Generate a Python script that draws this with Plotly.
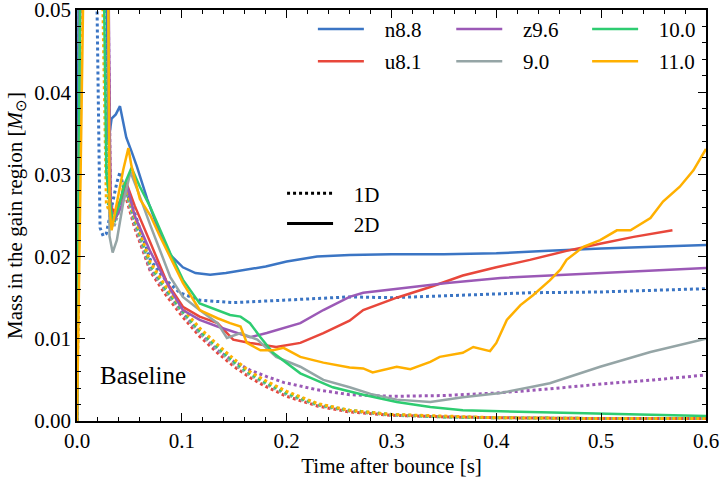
import plotly.graph_objects as go

# ---------------- data ----------------
# 2D (solid) runs
t_n88_2d = [0, 0.002, 0.027, 0.030, 0.033, 0.037, 0.041, 0.044, 0.047, 0.052, 0.057, 0.067, 0.077, 0.089, 0.101, 0.113, 0.127, 0.142, 0.158, 0.18, 0.2, 0.229, 0.26, 0.3, 0.35, 0.4, 0.45, 0.5, 0.55, 0.6]
m_n88_2d = [0, 0.07, 0.07, 0.034, 0.0368, 0.0373, 0.0383, 0.0362, 0.0345, 0.0328, 0.031, 0.027, 0.0235, 0.0202, 0.0187, 0.018, 0.0178, 0.018, 0.0183, 0.0188, 0.0194, 0.020, 0.0202, 0.0203, 0.0203, 0.0204, 0.0207, 0.021, 0.0212, 0.0214]

t_u81_2d = [0, 0.004, 0.028, 0.032, 0.036, 0.042, 0.047, 0.055, 0.07, 0.086, 0.101, 0.117, 0.134, 0.149, 0.165, 0.19, 0.213, 0.235, 0.26, 0.273, 0.305, 0.337, 0.368, 0.40, 0.432, 0.467, 0.50, 0.531, 0.568]
m_u81_2d = [0, 0.07, 0.07, 0.026, 0.0255, 0.027, 0.029, 0.0262, 0.0217, 0.0168, 0.0139, 0.0127, 0.0119, 0.0099, 0.0095, 0.009, 0.0095, 0.0107, 0.0122, 0.0135, 0.015, 0.0163, 0.0177, 0.0187, 0.0196, 0.0207, 0.0216, 0.0224, 0.0232]

t_z96_2d = [0, 0.004, 0.029, 0.032, 0.036, 0.042, 0.048, 0.055, 0.07, 0.089, 0.101, 0.117, 0.134, 0.149, 0.165, 0.181, 0.197, 0.213, 0.235, 0.26, 0.273, 0.305, 0.353, 0.404, 0.45, 0.5, 0.55, 0.6]
m_z96_2d = [0, 0.07, 0.07, 0.025, 0.0245, 0.026, 0.0285, 0.025, 0.0206, 0.016, 0.0135, 0.0123, 0.0115, 0.0109, 0.0102, 0.0107, 0.0113, 0.0119, 0.0135, 0.0151, 0.0156, 0.0161, 0.0168, 0.0174, 0.0177, 0.018, 0.0183, 0.0186]

t_90_2d = [0, 0.004, 0.029, 0.031, 0.034, 0.038, 0.044, 0.051, 0.058, 0.07, 0.089, 0.101, 0.117, 0.134, 0.143, 0.156, 0.172, 0.19, 0.213, 0.235, 0.26, 0.28, 0.305, 0.337, 0.368, 0.404, 0.432, 0.451, 0.499, 0.547, 0.6]
m_90_2d = [0, 0.07, 0.07, 0.0225, 0.0205, 0.022, 0.0265, 0.0303, 0.028, 0.0238, 0.0175, 0.0151, 0.0135, 0.0119, 0.0101, 0.0107, 0.0099, 0.0078, 0.0066, 0.005, 0.0041, 0.0033, 0.0026, 0.0023, 0.0029, 0.0034, 0.0041, 0.0046, 0.0066, 0.0084, 0.010]

t_100_2d = [0, 0.004, 0.024, 0.028, 0.034, 0.04, 0.046, 0.052, 0.06, 0.07, 0.089, 0.101, 0.117, 0.134, 0.146, 0.156, 0.165, 0.175, 0.187, 0.213, 0.244, 0.273, 0.305, 0.337, 0.368, 0.432, 0.5, 0.55, 0.6]
m_100_2d = [0, 0.07, 0.07, 0.03, 0.0242, 0.0262, 0.029, 0.0308, 0.0285, 0.026, 0.0204, 0.0172, 0.0143, 0.0135, 0.0129, 0.0127, 0.0119, 0.0102, 0.0083, 0.0058, 0.0041, 0.0032, 0.0023, 0.0017, 0.0013, 0.0011, 0.0009, 0.0007, 0.0006]

t_110_2d = [0, 0.008, 0.029, 0.031, 0.033, 0.038, 0.044, 0.049, 0.052, 0.06, 0.07, 0.079, 0.089, 0.101, 0.117, 0.134, 0.146, 0.156, 0.162, 0.175, 0.187, 0.197, 0.213, 0.235, 0.26, 0.273, 0.282, 0.305, 0.318, 0.337, 0.346, 0.368, 0.378, 0.394, 0.40, 0.41, 0.423, 0.435, 0.451, 0.461, 0.467, 0.483, 0.499, 0.515, 0.528, 0.547, 0.559, 0.575, 0.588, 0.6]
m_110_2d = [0, 0.07, 0.07, 0.026, 0.0232, 0.0265, 0.0305, 0.0332, 0.031, 0.027, 0.025, 0.0225, 0.020, 0.0168, 0.0135, 0.0125, 0.0119, 0.0115, 0.0095, 0.0086, 0.0086, 0.0089, 0.0078, 0.0071, 0.0065, 0.0064, 0.0059, 0.0066, 0.0063, 0.0072, 0.0078, 0.0083, 0.009, 0.0085, 0.0095, 0.0123, 0.0141, 0.0153, 0.0171, 0.0184, 0.0196, 0.0212, 0.022, 0.0232, 0.0232, 0.0247, 0.0267, 0.0285, 0.0305, 0.0331]

# 1D (dotted) runs
t_n88_1d = [0, 0.003, 0.017, 0.022, 0.025, 0.028, 0.033, 0.038, 0.041, 0.045, 0.051, 0.06, 0.07, 0.082, 0.098, 0.117, 0.149, 0.197, 0.26, 0.3, 0.35, 0.432, 0.5, 0.6]
m_n88_1d = [0, 0.07, 0.07, 0.0235, 0.0225, 0.0228, 0.026, 0.029, 0.0303, 0.028, 0.0268, 0.0235, 0.0196, 0.0175, 0.0156, 0.0147, 0.0144, 0.0147, 0.0151, 0.015, 0.0152, 0.0156, 0.0157, 0.0161]

t_u81_1d = [0, 0.004, 0.027, 0.031, 0.035, 0.04, 0.045, 0.055, 0.07, 0.085, 0.1, 0.117, 0.134, 0.15, 0.165, 0.18, 0.2, 0.23, 0.26, 0.3, 0.35, 0.4, 0.5, 0.6]
m_u81_1d = [0, 0.07, 0.07, 0.027, 0.0245, 0.026, 0.028, 0.0235, 0.0182, 0.0153, 0.0128, 0.0103, 0.0083, 0.0066, 0.0053, 0.0042, 0.003, 0.0018, 0.0011, 0.0007, 0.0005, 0.0004, 0.0003, 0.0003]

t_z96_1d = [0, 0.004, 0.028, 0.032, 0.036, 0.041, 0.046, 0.055, 0.07, 0.089, 0.101, 0.117, 0.134, 0.15, 0.165, 0.181, 0.197, 0.229, 0.26, 0.3, 0.35, 0.4, 0.45, 0.5, 0.55, 0.6]
m_z96_1d = [0, 0.07, 0.07, 0.0265, 0.025, 0.0265, 0.0285, 0.024, 0.0184, 0.0151, 0.0131, 0.0107, 0.0086, 0.0072, 0.0062, 0.0054, 0.0047, 0.0038, 0.0032, 0.003, 0.0031, 0.0034, 0.0039, 0.0045, 0.005, 0.0056]

t_90_1d = [0, 0.004, 0.027, 0.031, 0.035, 0.04, 0.045, 0.055, 0.07, 0.085, 0.1, 0.117, 0.134, 0.15, 0.165, 0.18, 0.2, 0.23, 0.26, 0.3, 0.35, 0.4, 0.5, 0.6]
m_90_1d = [0, 0.07, 0.07, 0.026, 0.0235, 0.0255, 0.0285, 0.024, 0.0186, 0.0157, 0.0132, 0.0107, 0.0087, 0.0069, 0.0056, 0.0045, 0.0032, 0.0019, 0.0012, 0.0007, 0.0005, 0.0004, 0.0003, 0.0003]

t_100_1d = [0, 0.004, 0.025, 0.03, 0.035, 0.04, 0.045, 0.055, 0.07, 0.085, 0.1, 0.117, 0.134, 0.15, 0.165, 0.18, 0.2, 0.23, 0.26, 0.3, 0.35, 0.4, 0.5, 0.6]
m_100_1d = [0, 0.07, 0.07, 0.0262, 0.024, 0.0258, 0.0288, 0.0245, 0.019, 0.016, 0.0135, 0.011, 0.009, 0.0072, 0.0058, 0.0047, 0.0034, 0.002, 0.0013, 0.0008, 0.0005, 0.0004, 0.0003, 0.0003]

t_110_1d = [0, 0.005, 0.022, 0.028, 0.034, 0.04, 0.045, 0.055, 0.07, 0.085, 0.1, 0.117, 0.134, 0.15, 0.165, 0.18, 0.2, 0.23, 0.26, 0.3, 0.35, 0.4, 0.5, 0.6]
m_110_1d = [0, 0.07, 0.07, 0.0265, 0.0243, 0.026, 0.029, 0.0248, 0.0193, 0.0163, 0.0138, 0.0113, 0.0093, 0.0075, 0.006, 0.0049, 0.0036, 0.0021, 0.0013, 0.0008, 0.0006, 0.0004, 0.0003, 0.0003]

models = ["n8.8", "u8.1", "z9.6", "9.0", "10.0", "11.0"]
colors = ["#3b75c4", "#e8473b", "#9b59b6", "#95a5a6", "#2ecc71", "#ffb000"]
legend_of = ["legend", "legend", "legend2", "legend2", "legend3", "legend3"]
runs_2d = [(t_n88_2d, m_n88_2d), (t_u81_2d, m_u81_2d), (t_z96_2d, m_z96_2d),
           (t_90_2d, m_90_2d), (t_100_2d, m_100_2d), (t_110_2d, m_110_2d)]
runs_1d = [(t_n88_1d, m_n88_1d), (t_u81_1d, m_u81_1d), (t_z96_1d, m_z96_1d),
           (t_90_1d, m_90_1d), (t_100_1d, m_100_1d), (t_110_1d, m_110_1d)]

FONT = "Liberation Serif"
NB = "\u00a0\u00a0\u00a0"

fig = go.Figure()
for name, col, (t1, m1) in zip(models, colors, runs_1d):
    fig.add_trace(go.Scatter(x=t1, y=m1, mode="lines", showlegend=False,
                             line=dict(color=col, width=3, dash="dot")))
for name, col, lg, (t2, m2) in zip(models, colors, legend_of, runs_2d):
    fig.add_trace(go.Scatter(x=t2, y=m2, mode="lines", name=NB + name,
                             legend=lg, legendgroup=name,
                             line=dict(color=col, width=2.5)))

# 1D / 2D style legend
fig.add_trace(go.Scatter(x=[None], y=[None], mode="lines", name=NB + "1D", legend="legend4",
                         legendgroup="1D", line=dict(color="black", width=3, dash="dot")))
fig.add_trace(go.Scatter(x=[None], y=[None], mode="lines", name=NB + "2D", legend="legend4",
                         legendgroup="2D", line=dict(color="black", width=3)))

leg_common = dict(xanchor="left", yanchor="top", bgcolor="rgba(0,0,0,0)",
                  font=dict(family=FONT, size=21, color="black"),
                  itemwidth=46, traceorder="grouped",
                  itemclick=False, itemdoubleclick=False)

axis_common = dict(showline=True, linecolor="black", linewidth=1.5, mirror="allticks",
                   ticks="inside", ticklen=8, tickwidth=1.3, tickcolor="black",
                   showgrid=False, zeroline=False, automargin=False,
                   ticklabeloverflow="allow",
                   tickfont=dict(family=FONT, size=21, color="black"),
                   title_font=dict(family=FONT, size=21, color="black"))

fig.update_layout(
    width=721, height=478,
    margin=dict(l=77, r=15, t=10, b=57, autoexpand=False),
    plot_bgcolor="white", paper_bgcolor="white",
    font=dict(family=FONT, color="black"),
    xaxis=dict(range=[0, 0.6], dtick=0.1, tick0=0, tickformat=".1f",
               title=dict(text="Time after bounce [s]", standoff=12),
               minor=dict(dtick=0.02, ticks="inside", ticklen=4, tickwidth=1, tickcolor="black"),
               **axis_common),
    yaxis=dict(range=[0, 0.05], dtick=0.01, tick0=0, tickformat=".2f",
               title=dict(text="Mass in the gain region [<i>M</i><sub>⊙</sub>]", standoff=6),
               minor=dict(dtick=0.002, ticks="inside", ticklen=4, tickwidth=1, tickcolor="black"),
               **axis_common),
    legend=dict(x=0.375, y=1.003, tracegroupgap=2, **leg_common),
    legend2=dict(x=0.595, y=1.003, tracegroupgap=2, **leg_common),
    legend3=dict(x=0.811, y=1.003, tracegroupgap=2, **leg_common),
    legend4=dict(x=0.326, y=0.603, tracegroupgap=0, **leg_common),
    annotations=[dict(text="Baseline", xref="paper", yref="paper", x=0.0334, y=0.1095,
                      xanchor="left", yanchor="middle", showarrow=False,
                      font=dict(family=FONT, size=25, color="black"))],
)

fig.write_html("out.html")
